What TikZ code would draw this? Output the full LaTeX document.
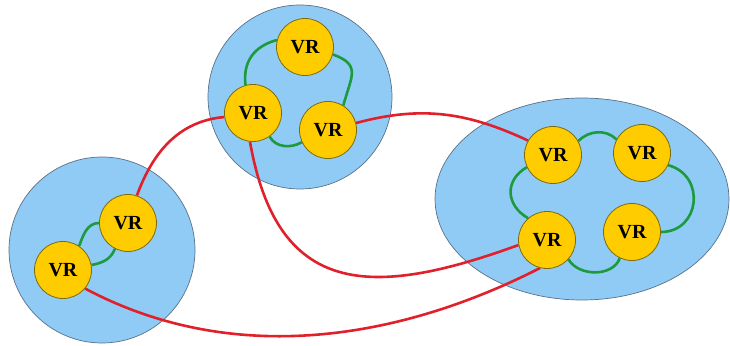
\documentclass[tikz,border=0pt]{standalone}
\usepackage{fontspec}
\setmainfont{Liberation Serif}
\usetikzlibrary{shapes.geometric}
\pgfdeclarelayer{blobs}
\pgfdeclarelayer{links}
\pgfsetlayers{blobs,links,main}
\definecolor{blobblue}{HTML}{8FCBF5}
\definecolor{blobedge}{HTML}{5A7088}
\definecolor{vryellow}{HTML}{FFCC00}
\definecolor{vredge}{HTML}{7A6A10}
\definecolor{ringgreen}{HTML}{1C9A3C}
\definecolor{linkred}{HTML}{E0202A}
\tikzset{
  blob/.style={draw=blobedge, line width=0.7pt, fill=blobblue, inner sep=0pt},
  vr/.style={circle, draw=vredge, line width=0.8pt, fill=vryellow, minimum size=57pt, inner sep=0pt, font=\fontsize{20}{22}\selectfont\bfseries},
  ring/.style={draw=ringgreen, line width=2.6pt},
  link/.style={draw=linkred, line width=2.6pt},
}
\begin{document}
\begin{tikzpicture}[x=1pt,y=1pt]
\useasboundingbox (0,0) rectangle (730,345);
% clusters
\begin{pgfonlayer}{blobs}
\node[blob, circle, minimum size=184pt] (ctop) at (300,248) {};
\node[blob, circle, minimum size=186pt] (cleft) at (102,95) {};
\node[blob, ellipse, minimum width=294pt, minimum height=202pt] (cright) at (582,146) {};
\end{pgfonlayer}
% VR nodes
\node[vr] (t) at (305,298) {VR};
\node[vr] (l) at (253,232) {VR};
\node[vr] (r) at (328,215) {VR};
\node[vr] (u) at (128,122) {VR};
\node[vr] (lo) at (63,75) {VR};
\node[vr] (tl) at (553,190) {VR};
\node[vr] (tr) at (642,192) {VR};
\node[vr] (bl) at (547,105) {VR};
\node[vr] (br) at (632,113) {VR};
\begin{pgfonlayer}{links}
% green rings
\draw[ring] (t.166) to[out=195,in=97,looseness=1.1] (l.105);
\draw[ring] (t.-15) to[out=-20,in=75,looseness=1.5] (r.58);
\draw[ring] (l.-55) to[out=-60,in=-150] (r.205);
\draw[ring] (u.180) to[out=180,in=70] (lo.56);
\draw[ring] (u.-117) to[out=-110,in=10] (lo.10);
\draw[ring] (tl.29) to[out=45,in=135] (tr.152);
\draw[ring] (tr.-25) to[out=-15,in=0,looseness=1.5] (br.0);
\draw[ring] (br.-115) to[out=-110,in=-60] (bl.-42);
\draw[ring] (bl.131) to[out=150,in=210,looseness=1.3] (tl.205);
% red links
\draw[link] (l.188) to[out=185,in=70] (u.72);
\draw[link] (r.14) to[out=15,in=155] (tl.150);
\draw[link] (l.-96) to[out=-80,in=200,looseness=1.4] (bl.190);
\draw[link] (lo.-40) to[out=-28,in=207,looseness=0.92] (bl.-104);
\end{pgfonlayer}
\end{tikzpicture}
\end{document}
